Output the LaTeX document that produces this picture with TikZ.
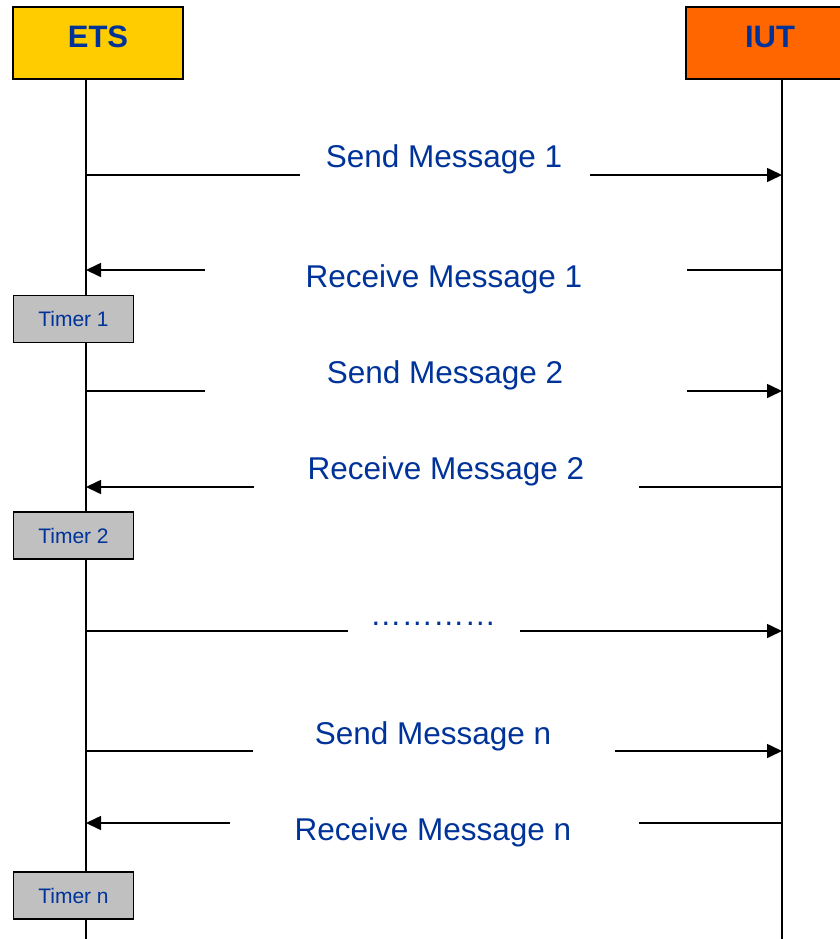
\documentclass[tikz,border=0pt]{standalone}
\usepackage{fontspec}
\setmainfont{Liberation Sans}
\usetikzlibrary{arrows.meta}
\definecolor{labelblue}{RGB}{0,51,153}
\definecolor{etsfill}{RGB}{255,204,0}
\definecolor{iutfill}{RGB}{255,102,0}
\definecolor{timerfill}{RGB}{192,192,192}
\tikzset{
  entity/.style={draw=black, line width=1.6pt},
  entitytext/.style={anchor=base, text=labelblue, font=\fontsize{31}{37}\selectfont\bfseries, inner sep=0pt},
  lifeline/.style={line width=1.6pt},
  msgline/.style={line width=1.6pt},
  msgarrow/.style={line width=1.6pt, -{Triangle[length=15pt,width=14pt]}},
  msgtext/.style={anchor=base, text=labelblue, font=\fontsize{31.5}{37}\selectfont, inner sep=0pt},
  timerbox/.style={draw=black, line width=1.4pt, fill=timerfill, minimum width=120pt, minimum height=47pt,
    text=labelblue, font=\fontsize{21}{25}\selectfont, inner sep=0pt},
}
\begin{document}
\begin{tikzpicture}[x=1pt, y=-1pt]
\useasboundingbox (0,0) rectangle (839,939);

% lifelines
\coordinate (etstop) at (86,79);
\coordinate (etsbot) at (86,939);
\coordinate (iuttop) at (782,79);
\coordinate (iutbot) at (782,939);
\draw[lifeline] (etstop) -- (etsbot);
\draw[lifeline] (iuttop) -- (iutbot);

% entity heads
\filldraw[entity, fill=etsfill] (13,7) rectangle (183,79);
\filldraw[entity, fill=iutfill] (686,7) rectangle (850,79);
\node[entitytext] (ets) at (98,48) {ETS};
\node[entitytext] (iut) at (770,48) {IUT};

% timers
\node[timerbox] (t1) at (73.5,319) {Timer 1};
\node[timerbox] (t2) at (73.5,535.5) {Timer 2};
\node[timerbox] (tn) at (73.5,895.5) {Timer n};

% message endpoints on the lifelines and the ends of the label gaps
\foreach \n/\y/\a/\b in {s1/175/300/590, r1/270/205/687, s2/391/205/687, r2/487/254/639,
                          dd/631/348/520, sn/751/253/615, rn/823/230/639} {
  \coordinate (\n-e) at (86,\y);
  \coordinate (\n-i) at (782,\y);
  \coordinate (\n-a) at (\a,\y);
  \coordinate (\n-b) at (\b,\y);
}

% ETS -> IUT
\draw[msgline] (s1-e) -- (s1-a);  \draw[msgarrow] (s1-b) -- (s1-i);
\draw[msgline] (s2-e) -- (s2-a);  \draw[msgarrow] (s2-b) -- (s2-i);
\draw[msgline] (dd-e) -- (dd-a);  \draw[msgarrow] (dd-b) -- (dd-i);
\draw[msgline] (sn-e) -- (sn-a);  \draw[msgarrow] (sn-b) -- (sn-i);
% IUT -> ETS
\draw[msgline] (r1-i) -- (r1-b);  \draw[msgarrow] (r1-a) -- (r1-e);
\draw[msgline] (r2-i) -- (r2-b);  \draw[msgarrow] (r2-a) -- (r2-e);
\draw[msgline] (rn-i) -- (rn-b);  \draw[msgarrow] (rn-a) -- (rn-e);

% labels
\node[msgtext] (ls1) at (444,167) {Send Message 1};
\node[msgtext] (lr1) at (444,287) {Receive Message 1};
\node[msgtext] (ls2) at (445,383) {Send Message 2};
\node[msgtext] (lr2) at (446,479) {Receive Message 2};
\node[msgtext] (ldd) at (433,625) {…………};
\node[msgtext] (lsn) at (433,744) {Send Message n};
\node[msgtext] (lrn) at (433,840) {Receive Message n};
\end{tikzpicture}
\end{document}
